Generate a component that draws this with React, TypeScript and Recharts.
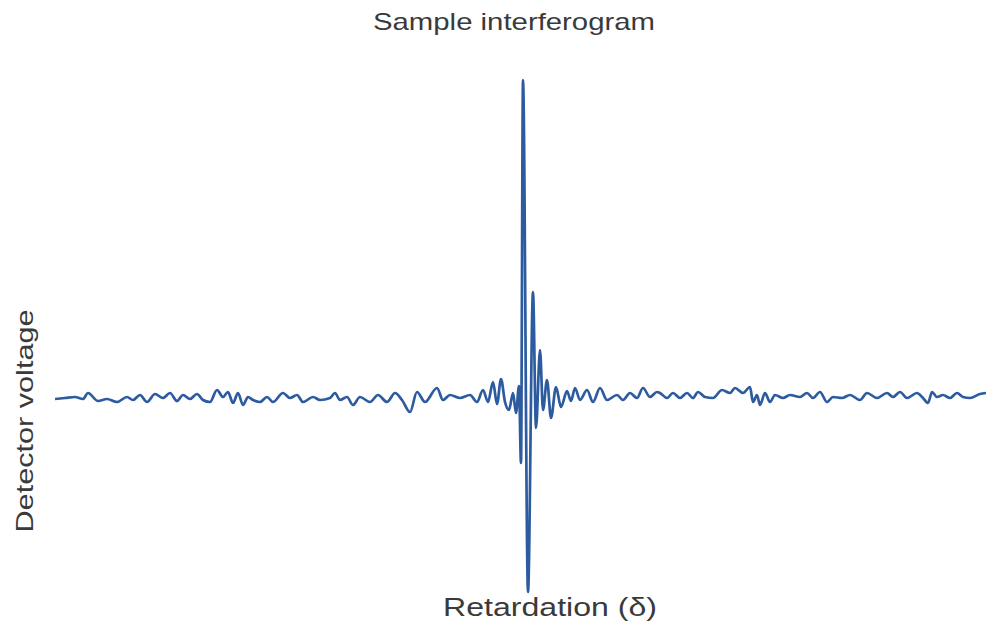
import { Line, LineChart, XAxis, YAxis } from 'recharts'

// retardation (arbitrary units, 0 = zero path difference) and detector voltage (arbitrary units)
const retardation = [
  -467, -457, -447, -439, -434, -424, -415, -405, -395, -389, -382, -375, -367, -359, -352, -345,
  -339, -332, -325, -319, -312, -305, -299, -294, -289, -284, -279, -274, -269, -262, -255, -249,
  -239, -232, -225, -219, -209, -202, -192, -187, -182, -175, -169, -162, -152, -144, -135, -127,
  -120, -112, -105, -97, -85, -79, -72, -62, -52, -45, -39, -34, -29, -25, -21, -17,
  -13, -9, -6, -3, -1, 1, 6, 11, 14, 18, 21, 25, 29, 34, 39, 45,
  49, 53, 58, 65, 71, 78, 85, 95, 101, 108, 115, 121, 128, 135, 138, 145,
  151, 158, 165, 171, 176, 183, 191, 200, 208, 213, 221, 228, 231, 235, 238, 243,
  248, 253, 261, 268, 278, 285, 291, 298, 305, 311, 320, 328, 338, 345, 355, 365,
  371, 378, 385, 395, 401, 406, 410, 415, 421, 428, 435, 441, 448, 458, 464,
]

const voltage = [
  -1, 0, 1, -1, 5, -3, -1, -4, 1, -2, 3, -4, 4, 0, 5, -3,
  3, -1, 4, -2, -4, 8, 1, 6, -5, 5, -7, 1, -2, -4, 1, -4,
  5, 0, 3, -4, 1, -2, 0, 5, -2, 1, -7, 1, -4, 3, -4, 5,
  -2, -14, 6, -4, 10, -2, 3, 0, 3, -4, 8, -4, 16, -6, 19, -4,
  -12, 5, -15, 12, -65, 318, -194, 106, -30, 48, -12, 18, -20, 11, -9, 7,
  -3, 10, -2, 8, -4, 10, -2, 3, -2, 5, 0, 10, 1, 6, 5, 0,
  5, 0, 5, 0, 6, 1, 0, 8, 5, 10, 5, 11, -4, 3, -7, 5,
  -4, 3, 0, 3, 1, 5, 0, 6, -4, 1, 0, 3, -2, 5, 0, 5,
  1, 6, 0, 5, 0, -5, 6, 1, 3, 0, 5, 1, 0, 4, 5,
]

const TITLE = 'Sample interferogram'
const X_LABEL = 'Retardation (δ)'
const Y_LABEL = 'Detector voltage'

const data = retardation.map((d, i) => ({ delta: d, volts: voltage[i] }))

const TEXT_COLOR = '#3a3a3a'
const LINE_COLOR = '#2d5b9f'
const FONT = '"Liberation Sans", Arial, Helvetica, sans-serif'

export default function App() {
  return (
    <div
      style={{
        position: 'absolute',
        left: 0,
        top: 0,
        width: 986,
        height: 630,
        background: '#fff',
      }}
    >
      <LineChart
        width={986}
        height={630}
        data={data}
        margin={{ top: 68, right: 0, bottom: 12, left: 55 }}
      >
        <XAxis
          type="number"
          dataKey="delta"
          domain={[-467, 464]}
          allowDataOverflow
          hide
        />
        <YAxis type="number" domain={[-220, 330]} allowDataOverflow hide />
        <Line
          type="monotone"
          dataKey="volts"
          stroke={LINE_COLOR}
          strokeWidth={2.7}
          dot={false}
          isAnimationActive={false}
        />
      </LineChart>

      {/* titles drawn on top of the chart */}
      <svg
        width={986}
        height={630}
        style={{ position: 'absolute', left: 0, top: 0, pointerEvents: 'none' }}
      >
        <text
          x={514}
          y={30}
          textAnchor="middle"
          fontFamily={FONT}
          fontSize={24}
          fill={TEXT_COLOR}
          textLength={282}
          lengthAdjust="spacingAndGlyphs"
        >
          {TITLE}
        </text>
        <text
          x={550}
          y={616}
          textAnchor="middle"
          fontFamily={FONT}
          fontSize={25}
          fill={TEXT_COLOR}
          textLength={214}
          lengthAdjust="spacingAndGlyphs"
        >
          {X_LABEL}
        </text>
        <text
          transform="translate(33, 421) rotate(-90)"
          textAnchor="middle"
          fontFamily={FONT}
          fontSize={24}
          fill={TEXT_COLOR}
          textLength={223}
          lengthAdjust="spacingAndGlyphs"
        >
          {Y_LABEL}
        </text>
      </svg>
    </div>
  )
}
